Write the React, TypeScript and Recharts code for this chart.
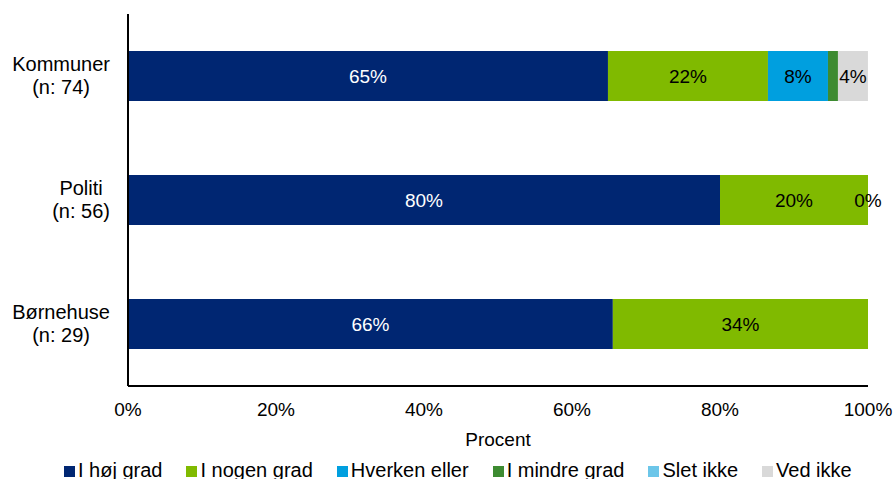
import React from 'react'
import { BarChart, Bar, XAxis, YAxis, Legend, LabelList } from 'recharts'

const categories = ['Kommuner', 'Politi', 'Børnehuse']
const respondents = [74, 56, 29]
const seriesNames = ['I høj grad', 'I nogen grad', 'Hverken eller', 'I mindre grad', 'Slet ikke', 'Ved ikke']

// shares in percent, null = no answer in that group
const hojGrad = [64.86, 80.0, 65.52]
const nogenGrad = [21.62, 20.0, 34.48]
const hverkenEller = [8.11, null, null]
const mindreGrad = [1.35, null, null]
const sletIkke = [null, null, null]
const vedIkke = [4.05, 0, null]

const xTicks = [0, 20, 40, 60, 80, 100]

const colors = ['#002672', '#80ba00', '#009fdf', '#3d8b31', '#6cc6e9', '#d9d9d9']
const labelColors = ['#ffffff', '#000000', '#000000', '#000000', '#000000', '#000000']

const FONT = '"Liberation Sans", Arial, sans-serif'
const FS = 19
const CAT_FS = 20

const seriesValues = [hojGrad, nogenGrad, hverkenEller, mindreGrad, sletIkke, vedIkke]

const chartData = categories.map((name, i) => {
  const row: Record<string, string | number | null> = { name }
  seriesValues.forEach((vals, s) => {
    row[`v${s}`] = vals[i] ?? 0
    row[`l${s}`] = vals[i]
  })
  return row
})

let ctx: CanvasRenderingContext2D | null = null
const measure = (t: string) => {
  if (!ctx) ctx = document.createElement('canvas').getContext('2d')
  if (!ctx) return t.length * 10
  ctx.font = `${CAT_FS}px "Liberation Sans"`
  return ctx.measureText(t).width
}

// two-line category label, lines centred on each other, block right aligned to the axis
const CategoryTick = (props: any) => {
  const { x, y, payload } = props
  const idx = categories.indexOf(payload.value)
  const lines = [payload.value, `(n: ${respondents[idx]})`]
  const w = Math.max(...lines.map(measure))
  const cx = x - w / 2
  return (
    <text textAnchor="middle" fontSize={CAT_FS} fill="#000" fontFamily={FONT}>
      <tspan x={cx} y={y - 5}>{lines[0]}</tspan>
      <tspan x={cx} y={y + 18}>{lines[1]}</tspan>
    </text>
  )
}

// zero values have no width, so their "0%" is drawn at the end of the last visible segment
const makeLabel = (s: number) => (props: any) => {
  const { value, index } = props
  const vb = props.viewBox ?? props
  const { x, y, width, height } = vb
  const ty = y + height / 2 + 6.7
  const out: React.ReactNode[] = []
  if (value != null && !(value > 0 && value < 2)) {
    out.push(
      <text key="v" x={x + width / 2} y={ty} textAnchor="middle" fill={labelColors[s]} fontSize={FS} fontFamily={FONT}>
        {Math.round(value)}%
      </text>
    )
  }
  const later = seriesValues.slice(s + 1).map((vals) => vals[index])
  const isLastVisible = value != null && value > 0 && later.every((v) => v == null || v === 0)
  if (isLastVisible) {
    later.forEach((v, k) => {
      if (v === 0) {
        out.push(
          <text key={`z${k}`} x={x + width} y={ty} textAnchor="middle" fill="#000" fontSize={FS} fontFamily={FONT}>
            0%
          </text>
        )
      }
    })
  }
  return out.length ? <g>{out}</g> : null
}

const LegendContent = () => (
  <div
    style={{
      position: 'relative',
      top: 2,
      display: 'flex',
      paddingLeft: 64,
      height: 22,
      lineHeight: '22px',
      fontSize: 20,
      fontFamily: FONT,
      color: '#000',
      whiteSpace: 'nowrap',
    }}
  >
    {seriesNames.map((n, i) => (
      <div key={n} style={{ display: 'flex', alignItems: 'center', marginRight: 24 }}>
        <span
          style={{
            display: 'inline-block',
            width: 11,
            height: 11,
            background: colors[i],
            marginRight: 3,
            marginTop: 3,
          }}
        />
        <span>{n}</span>
      </div>
    ))}
  </div>
)

export default function App() {
  return (
    <div style={{ position: 'absolute', left: 0, top: 0, fontFamily: FONT }}>
      <BarChart
        width={894}
        height={479}
        data={chartData}
        layout="vertical"
        margin={{ top: 14, right: 26, bottom: 0, left: 0 }}
        barSize={50}
      >
        <XAxis
          type="number"
          domain={[0, 100]}
          ticks={xTicks}
          tickFormatter={(v) => `${v}%`}
          tickLine={false}
          tickSize={0}
          tickMargin={17}
          axisLine={{ stroke: '#000', strokeWidth: 2 }}
          tick={{ fill: '#000', fontSize: FS, fontFamily: FONT }}
          height={71}
          label={{
            value: 'Procent',
            position: 'insideBottom',
            offset: 11,
            fill: '#000',
            fontSize: FS,
            fontFamily: FONT,
          }}
        />
        <YAxis
          type="category"
          dataKey="name"
          width={128}
          tickLine={false}
          tickSize={0}
          tickMargin={18}
          axisLine={{ stroke: '#000', strokeWidth: 2 }}
          tick={<CategoryTick />}
        />
        <Legend verticalAlign="bottom" height={22} content={<LegendContent />} />
        {seriesNames.map((n, s) => (
          <Bar
            key={n}
            dataKey={`v${s}`}
            name={n}
            stackId="a"
            fill={colors[s]}
            isAnimationActive={false}
          >
            <LabelList dataKey={`l${s}`} content={makeLabel(s)} />
          </Bar>
        ))}
      </BarChart>
    </div>
  )
}
